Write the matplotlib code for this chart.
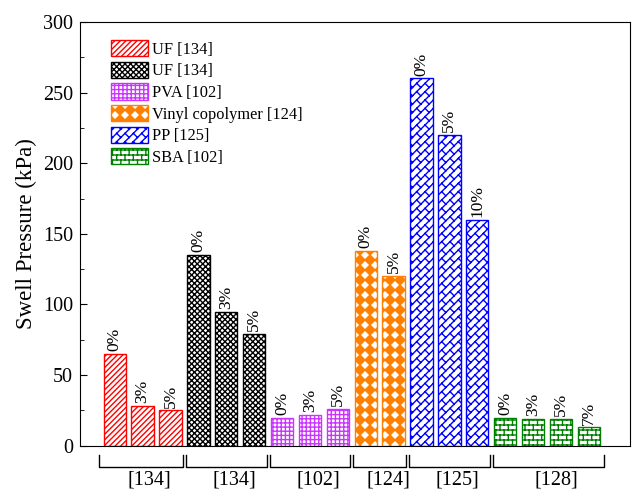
import warnings
import matplotlib.pyplot as plt
import matplotlib.transforms as mtransforms
from matplotlib import hatch as mhatch
from matplotlib.path import Path
import numpy as np

warnings.filterwarnings('ignore')

plt.rcParams['font.family'] = ['Liberation Serif', 'DejaVu Serif']
plt.rcParams['hatch.linewidth'] = 1.0

# Swell pressure (kPa) per additive content, grouped by study
groups = ['UF [134]', 'UF [134]', 'PVA [102]', 'Vinyl copolymer [124]',
          'PP [125]', 'SBA [102]']
refs = ['[134]', '[134]', '[102]', '[124]', '[125]', '[128]']
contents = [['0%', '3%', '5%'],
            ['0%', '3%', '5%'],
            ['0%', '3%', '5%'],
            ['0%', '5%'],
            ['0%', '5%', '10%'],
            ['0%', '3%', '5%', '7%']]
pressures = [[65, 28, 25],
             [135, 95, 79],
             [20, 22, 26],
             [138, 120],
             [260, 220, 160],
             [20, 19, 19, 13]]

colors = ['#FF0000', '#000000', '#CC33FF', '#FF8000', '#0000FF', '#008000']
hatches = ['//////', 'xxxxxx', '++++', 'd', 'h', 'b']


###########################################################################
#                          EXTRA HATCH PATTERNS                           #
###########################################################################

class BrickHatch(mhatch.HatchPatternBase):
    """Horizontal brick wall, 'b'."""
    rows, cols = 20, 12

    def __init__(self, hatch, density):
        self.on = 'b' in hatch
        n, m = self.rows, self.cols
        self.num_vertices = (2 * (n + 1) + 2 * n * (m + 1)) if self.on else 0

    def set_vertices_and_codes(self, vertices, codes):
        n, m = self.rows, self.cols
        segs = []
        for i in range(n + 1):
            segs.append(((0, i / n), (1, i / n)))
        for i in range(n):
            shift = 0.5 * (i % 2)
            for j in range(m + 1):
                x = (j + shift) / m
                segs.append(((x, i / n), (x, (i + 1) / n)))
        vertices[:] = np.array(segs, dtype=float).reshape(-1, 2)
        codes[0::2] = Path.MOVETO
        codes[1::2] = Path.LINETO


class HerringHatch(mhatch.HatchPatternBase):
    """Bricks running along the '/' diagonal, 'h'."""
    n, m = 12, 12

    def __init__(self, hatch, density):
        self.on = 'h' in hatch
        self.segs = self._segments() if self.on else []
        self.num_vertices = 2 * len(self.segs)

    def _segments(self):
        n, m = self.n, self.m
        segs = []
        for k in range(-n, n + 1):
            c = k / n
            segs.append(((0, c), (1, 1 + c)))
            # cross joints; the end of one lands mid-brick on the next row
            for j in range(-m, 2 * m):
                t = j / m
                p0 = (t, t + c)
                p1 = (t + 0.5 / n, t + c - 0.5 / n)
                if -0.2 < p0[0] < 1.2 and -0.2 < p0[1] < 1.2:
                    segs.append((p0, p1))
        return segs

    def set_vertices_and_codes(self, vertices, codes):
        vertices[:] = np.array(self.segs, dtype=float).reshape(-1, 2)
        codes[0::2] = Path.MOVETO
        codes[1::2] = Path.LINETO


class DiamondHatch(mhatch.HatchPatternBase):
    """Filled diamonds touching at their corners, 'd'."""
    n = 10

    def __init__(self, hatch, density):
        self.on = 'd' in hatch
        n = self.n
        self.centres = ([(i / n, j / n) for i in range(n + 1)
                         for j in range(n + 1)] if self.on else [])
        self.num_vertices = 5 * len(self.centres)

    def set_vertices_and_codes(self, vertices, codes):
        r = 0.5 / self.n
        pts = []
        for cx, cy in self.centres:
            pts += [(cx + r, cy), (cx, cy + r), (cx - r, cy), (cx, cy - r),
                    (cx + r, cy)]
        vertices[:] = np.array(pts, dtype=float)
        codes[:] = Path.LINETO
        codes[0::5] = Path.MOVETO
        codes[4::5] = Path.CLOSEPOLY


mhatch._hatch_types.extend([BrickHatch, HerringHatch, DiamondHatch])


###########################################################################
#                                 PLOT                                    #
###########################################################################

fig = plt.figure(figsize=(6.44, 4.97), dpi=100)
ax = fig.add_axes([0.124, 0.103, 0.854, 0.853])

pos = 0
edges = [-0.6]
for g, (name, labs, vals) in enumerate(zip(groups, contents, pressures)):
    x = np.arange(pos, pos + len(vals))
    ax.bar(x, vals, width=0.8, facecolor='white', edgecolor=colors[g],
           hatch=hatches[g], linewidth=1.0, label=name)
    for xi, v, lab in zip(x, vals, labs):
        ax.text(xi, v + 2, lab, rotation=90, ha='center', va='bottom',
                fontsize=12.5)
    pos += len(vals)
    edges.append(pos - 0.5)
edges[-1] = pos - 0.4

ax.set_xlim(-1.25, 18.47)
ax.set_ylim(0, 300)
ax.set_xticks([])
ax.set_yticks(np.arange(0, 301, 50))
ax.set_yticks(np.arange(0, 301, 25), minor=True)
ax.tick_params(axis='y', which='both', direction='in', labelsize=14.5, pad=5)
ax.tick_params(axis='y', which='major', length=5)
ax.tick_params(axis='y', which='minor', length=3)
ax.set_ylabel('Swell Pressure (kPa)', fontsize=16.5, labelpad=4)

# group brackets under the axis
trans = mtransforms.blended_transform_factory(ax.transData, ax.transAxes)
for i, ref in enumerate(refs):
    x0 = edges[i] + 0.05
    x1 = edges[i + 1] - 0.05
    ax.plot([x0, x0, x1, x1], [-0.021, -0.05, -0.05, -0.021], color='black',
            lw=1.0, transform=trans, clip_on=False)
    ax.text((x0 + x1) / 2 + 0.3, -0.08, ref, transform=trans, ha='center',
            va='center', fontsize=14.5)

ax.legend(loc='upper left', bbox_to_anchor=(0.056, 0.957), frameon=False,
          fontsize=11.8, handlelength=2.3, handleheight=1.15,
          labelspacing=0.24, handletextpad=0.25, borderpad=0,
          borderaxespad=0)

fig.savefig('out.png', dpi=100)
